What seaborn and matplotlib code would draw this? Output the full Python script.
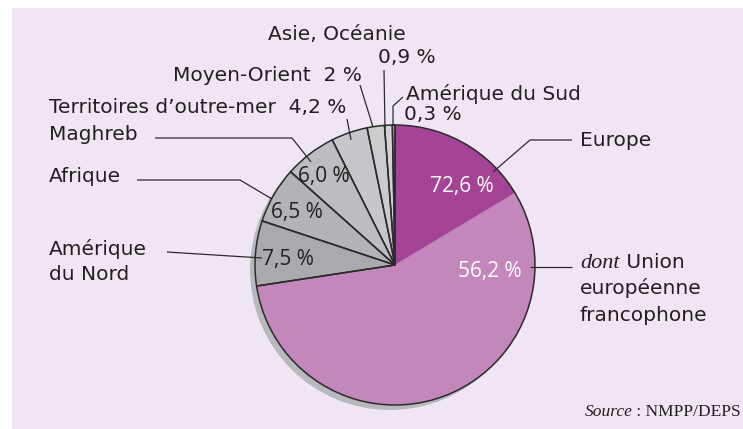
import matplotlib
matplotlib.use("Agg")
import matplotlib.pyplot as plt
import matplotlib.patches as mpatches
import seaborn as sns

# Données (en %)
zones = ["Europe hors UE francophone", "UE francophone", "Amérique du Nord", "Afrique",
         "Maghreb", "Territoires d'outre-mer", "Moyen-Orient", "Asie, Océanie", "Amérique du Sud"]
europe_total = 72.6
ue_francophone = 56.2
autres = [7.5, 6.5, 6.0, 4.2, 2.0, 0.9, 0.3]
parts = [europe_total - ue_francophone, ue_francophone] + autres

couleurs = ["#a54497", "#c387bb", "#aaaaae", "#b3b3b7", "#bcbdc0",
            "#c6c7ca", "#cbccce", "#d2d3d5", "#dcdde0"]

sns.set_theme(style="white")
plt.rcParams["font.family"] = ["DejaVu Sans"]

W, H = 743, 429
fig = plt.figure(figsize=(W / 100, H / 100), dpi=100)
fig.patch.set_facecolor("white")
ax = fig.add_axes([0, 0, 1, 1])

# fond lavande
ax.add_patch(mpatches.Rectangle((12, 0), W - 12, H - 8, facecolor="#f0e5f2", edgecolor="none", zorder=0))

cx, cy, r = 395, H - 265, 140

# ombre
ax.add_patch(mpatches.Circle((cx - 5, cy - 5), r, facecolor="#b8b9bc", edgecolor="none", zorder=1))

# remplissage
ax.pie(parts, colors=couleurs, startangle=90, counterclock=False, center=(cx, cy), radius=r,
       wedgeprops=dict(linewidth=0), frame=True)
# contours (Europe d'un seul tenant)
ax.pie([europe_total] + autres, colors=["none"] * (len(autres) + 1), startangle=90, counterclock=False,
       center=(cx, cy), radius=r, wedgeprops=dict(linewidth=1.1, edgecolor="#2b2b2b", facecolor="none"),
       frame=True)
ax.set_xlim(0, W)
ax.set_ylim(0, H)
ax.set_aspect("equal")
ax.axis("off")

ink = "#231f20"
lab = dict(fontsize=14.5, color=ink, va="baseline", family="DejaVu Sans")
pct = dict(fontsize=15, va="baseline", ha="center", family="Open Sans")
serif = dict(fontsize=12.5, color=ink, va="baseline", family="Liberation Serif")
lc = "#2b2b2b"
lw = 0.9


def y(v):
    return H - v


def ligne(pts):
    ax.plot([p[0] for p in pts], [y(p[1]) for p in pts], color=lc, lw=lw, zorder=5,
            solid_capstyle="butt")


# Europe
ax.text(462, y(192), "72,6 %", color="white", zorder=6, **pct)
ligne([(493, 172), (530, 140), (572, 140)])
ax.text(580, y(146), "Europe", ha="left", **lab)

ax.text(490, y(277), "56,2 %", color="white", zorder=6, **pct)
ligne([(530, 267), (572, 267)])
t_dont = ax.text(580, y(268), "dont", ha="left", va="baseline", style="italic", fontsize=16,
                 color=ink, family="Liberation Serif")
ax.annotate(" Union", xy=(1, y(268)), xycoords=(t_dont, "data"), ha="left", **lab)
ax.text(580, y(294), "européenne", ha="left", **lab)
ax.text(580, y(321), "francophone", ha="left", **lab)

# Amérique du Nord
ax.text(49, y(255), "Amérique", ha="left", **lab)
ax.text(49, y(280), "du Nord", ha="left", **lab)
ligne([(167, 252), (262, 258)])
ax.text(288, y(265), "7,5 %", color=ink, **pct)

# Afrique
ax.text(49, y(182), "Afrique", ha="left", **lab)
ligne([(137, 180), (240, 180), (272, 199)])
ax.text(297, y(218), "6,5 %", color=ink, **pct)

# Maghreb
ax.text(49, y(140), "Maghreb", ha="left", **lab)
ligne([(155, 138), (292, 138), (311, 162)])
ax.text(324, y(182), "6,0 %", color=ink, **pct)

# Territoires d'outre-mer
ax.text(49, y(113), "Territoires d’outre-mer  4,2 %", ha="left", **lab)
ligne([(347, 119), (351, 140)])

# Moyen-Orient
ax.text(173, y(81), "Moyen-Orient  2 %", ha="left", **lab)
ligne([(360, 85), (373, 127)])

# Asie, Océanie
ax.text(268, y(40), "Asie, Océanie", ha="left", **lab)
ax.text(378, y(63), "0,9 %", ha="left", **lab)
ligne([(384, 70), (385, 128)])

# Amérique du Sud
ax.text(406, y(100), "Amérique du Sud", ha="left", **lab)
ax.text(404, y(120), "0,3 %", ha="left", **lab)
ligne([(403, 97), (393, 106), (393, 126)])

# Source
t_src = ax.text(741, y(416), " : NMPP/DEPS", ha="right", **serif)
ax.annotate("Source", xy=(0, y(416)), xycoords=(t_src, "data"), ha="right", style="italic", **serif)

fig.savefig("out.png", dpi=100, facecolor=fig.get_facecolor())
